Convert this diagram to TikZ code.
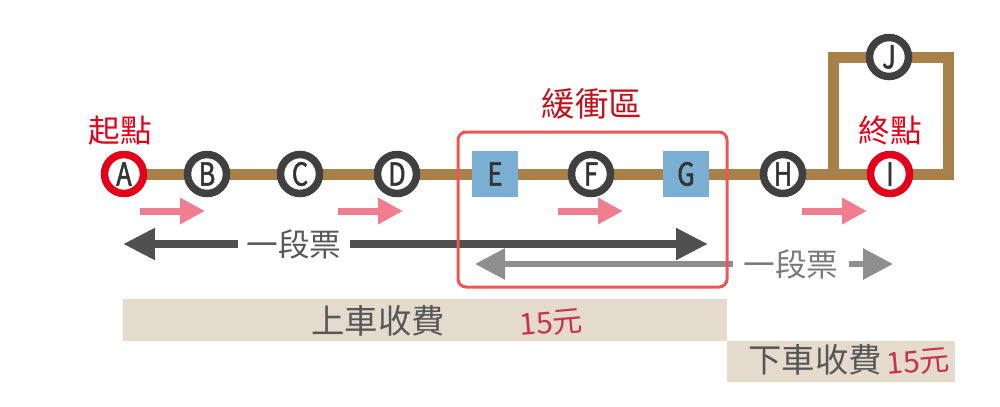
\documentclass[tikz,border=0pt]{standalone}
\usepackage{fontspec}
\setmainfont{Noto Sans CJK TC}
\newfontfamily\stfont[FakeStretch=0.8,FakeBold=1.6]{Noto Sans CJK TC}
\usetikzlibrary{arrows.meta,backgrounds}
\definecolor{trackbrown}{HTML}{A8804A}
\definecolor{ringgray}{HTML}{404040}
\definecolor{termred}{HTML}{E2001A}
\definecolor{lettergray}{HTML}{333333}
\definecolor{boxblue}{HTML}{7AAED3}
\definecolor{arrowpink}{HTML}{EF7F90}
\definecolor{faredark}{HTML}{505050}
\definecolor{faregray}{HTML}{8E8E8E}
\definecolor{framered}{HTML}{F05555}
\definecolor{bufferred}{HTML}{C0121C}
\definecolor{bandbeige}{HTML}{E4DBCD}
\definecolor{textgray}{HTML}{575757}
\definecolor{pricered}{HTML}{C83250}
\begin{document}
\begin{tikzpicture}[x=0.02cm, y=-0.02cm,
    station/.style={circle, draw=ringgray, line width=0.15cm, fill=white, minimum size=0.78cm, inner sep=0pt,
        text=lettergray, font=\stfont\fontsize{18}{18}\selectfont},
    terminus/.style={station, draw=termred},
    transfer/.style={fill=boxblue, minimum width=0.92cm, minimum height=0.92cm, inner sep=0pt,
        text=lettergray, font=\stfont\fontsize{18}{18}\selectfont},
    track/.style={draw=trackbrown, line width=0.22cm},
    termlbl/.style={text=termred, font=\fontsize{18}{18}\selectfont},
    bufferlbl/.style={text=bufferred, font=\fontsize{19}{19}\selectfont},
    dirarrow/.style={-{Triangle[length=0.5cm, width=0.5cm]}, draw=arrowpink, fill=arrowpink, line width=0.14cm},
    farearrow/.style={-{Triangle[length=0.64cm, width=0.6cm]}, draw=faredark, fill=faredark, line width=0.16cm},
    farearrow2/.style={-{Triangle[length=0.6cm, width=0.6cm]}, draw=faregray, fill=faregray, line width=0.12cm},
    farelbl/.style={text=textgray, inner sep=0.16cm, font=\fontsize{18}{18}\selectfont},
    feelbl/.style={text=textgray, font=\fontsize{19}{19}\selectfont},
    pricelbl/.style={text=pricered, rotate=5, font=\fontsize{17}{17}\selectfont}]
    \useasboundingbox (0,0) rectangle (1000,406);

    % 車站
    \node[terminus] (A) at (124,174) {A};
    \node[station] (B) at (207,174) {B};
    \node[station] (C) at (300,174) {C};
    \node[station] (D) at (397,174) {D};
    \node[transfer] (E) at (495,174) {E};
    \node[station] (F) at (591,174) {F};
    \node[transfer] (G) at (686,174) {G};
    \node[station] (H) at (783,174) {H};
    \node[terminus] (I) at (890,174) {I};
    \node[station] (J) at (889,57) {J};
    \coordinate (fork) at (833,174);
    \coordinate (loopNW) at (833,57);
    \coordinate (loopNE) at (948,57);
    \coordinate (loopSE) at (948,174);

    % 路線
    \begin{scope}[on background layer]
        \draw[track] (A.center) -- (B.center) -- (C.center) -- (D.center) -- (E.center) -- (F.center)
            -- (G.center) -- (H.center) -- (I.center) -- (loopSE) -- (loopNE) -- (J.center) -- (loopNW) -- (fork);
    \end{scope}

    % 標籤
    \node[termlbl] (startlbl) at (120,131) {起點};
    \node[termlbl] (endlbl) at (890,131) {終點};
    \node[bufferlbl] (bufferlbl) at (592,104) {緩衝區};

    % 行車方向
    \foreach \x in {140,338,558,802}
        \draw[dirarrow] (\x,211) -- ++(65,0);

    % 一段票
    \node[farelbl] (fare1) at (294,244) {一段票};
    \coordinate (fare1L) at (123,244);
    \coordinate (fare1R) at (708,244);
    \draw[farearrow] (fare1.west) -- (fare1L);
    \draw[farearrow] (fare1.east) -- (fare1R);

    \node[farelbl, text=faregray!85!black, inner sep=0.2cm] (fare2) at (791,264) {一段票};
    \coordinate (fare2L) at (475,264);
    \coordinate (fare2R) at (893,264);
    \draw[farearrow2] (fare2.west) -- (fare2L);
    \draw[farearrow2] (fare2.east) -- (fare2R);

    % 收費
    \fill[bandbeige] (123,299) rectangle (727,341);
    \fill[bandbeige] (727,341) rectangle (955,382);
    \node[feelbl] (board) at (378,321) {上車收費};
    \node[pricelbl] (boardprice) at (551,323) {15元};
    \node[feelbl] (alight) at (815,360) {下車收費};
    \node[pricelbl] (alightprice) at (918,362) {15元};

    % 緩衝區
    \draw[framered, line width=0.06cm, rounded corners=0.16cm] (458,132) rectangle (727,287);
\end{tikzpicture}
\end{document}
